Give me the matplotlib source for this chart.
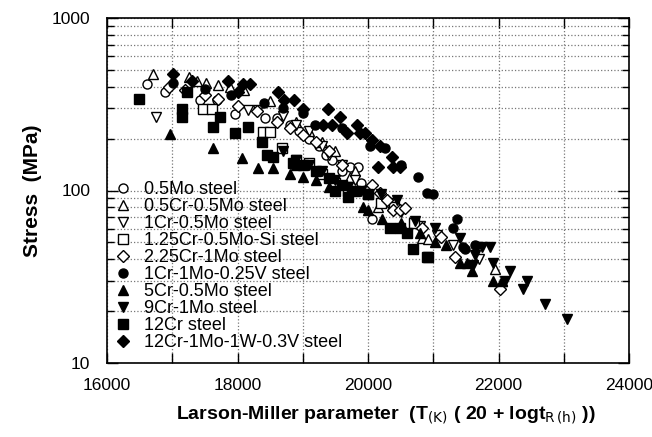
import numpy as np
import matplotlib
matplotlib.use("Agg")
import matplotlib.pyplot as plt
from matplotlib.ticker import FixedLocator, LogLocator, FuncFormatter, NullFormatter

plt.rcParams['font.family'] = ['Liberation Sans', 'DejaVu Sans']

# Larson-Miller parameter / stress (MPa) for each steel
mo05_x = [16613, 16890, 17425, 17686, 17962, 18421, 18605, 18800, 18950, 19100, 19250, 19350, 19450, 19724, 19847, 19600, 19900, 20061]
mo05_y = [414, 372, 335, 335, 278, 263, 263, 240, 220, 200, 180, 160, 150, 137, 137, 130, 110, 68]

cr05_x = [16705, 17257, 17380, 17520, 17700, 17880, 18100, 18500, 18900, 19100, 19300, 19500, 19724, 19800, 20150, 20828, 20920, 21950, 22050]
cr05_y = [473, 455, 430, 420, 410, 400, 380, 330, 250, 220, 190, 170, 120, 130, 80, 53, 52, 35, 30]

cr1_x = [16751, 18160, 18314, 18700, 18900, 19100, 19300, 19400, 19600, 19800, 20000, 20300, 20500, 20800, 21050, 21300, 21700]
cr1_y = [267, 293, 293, 270, 240, 220, 180, 160, 140, 115, 100, 85, 75, 62, 55, 48, 40]

si_x = [17471, 17609, 18390, 18498, 18682, 18900, 19100, 19300, 19500, 19700, 20000, 20200, 20400, 20700]
si_y = [296, 296, 218, 218, 176, 150, 145, 125, 110, 100, 95, 85, 80, 65]

cr225_x = [16950, 17200, 17500, 17700, 18000, 18300, 18600, 18800, 19000, 19200, 19400, 19600, 20061, 20184,
           20291, 20383, 20490, 20567, 20828, 21119, 21333, 22023]
cr225_y = [400, 380, 360, 340, 310, 290, 250, 230, 210, 190, 170, 140, 108, 97, 88, 77, 77, 79, 61, 54, 41, 27]

v025_x = [17011, 17500, 17900, 18400, 18700, 19000, 19188, 19600, 20030, 20260, 20500, 20766, 20904, 21000,
          21303, 21364, 21456, 21487, 21640]
v025_y = [420, 390, 360, 320, 300, 280, 240, 230, 181, 176, 140, 120, 97, 96, 61, 68, 47, 46, 48]

cr5_x = [16966, 17625, 18069, 18314, 18544, 18800, 18900, 19000, 19200, 19400, 19700, 19923, 20000, 20215,
         20500, 20800, 21027, 21200, 21410, 21517, 21594, 21916, 22054]
cr5_y = [213, 176, 154, 135, 135, 125, 140, 120, 115, 105, 95, 80, 77, 68, 65, 57, 50, 48, 38, 38, 34, 30, 30]

cr9_x = [18700, 18900, 19100, 19300, 19500, 19700, 19900, 20200, 20444, 20720, 21027, 21410, 21670, 21747,
         21870, 21640, 21610, 21916, 22100, 22176, 22437, 22376, 22713, 23050]
cr9_y = [170, 150, 140, 130, 115, 105, 100, 95, 88, 67, 61, 53, 47, 47, 47, 42, 37, 38, 30, 34, 30, 27, 22, 18]

cr12_x = [16490, 17150, 17150, 17226, 17625, 17732, 17962, 18160, 18375, 18452, 18544, 18850, 19000, 19200,
          19400, 19500, 19600, 19700, 19800, 20000, 20337, 20490, 20598, 20690, 20904, 20920]
cr12_y = [339, 296, 267, 372, 233, 267, 215, 233, 191, 160, 157, 145, 140, 130, 118, 100, 108, 92, 100, 95,
          61, 61, 57, 46, 41, 41]

w03_x = [17011, 17300, 17854, 18084, 18191, 18008, 18620, 18713, 18866, 19004, 19387, 19571, 19310, 19448,
         19831, 19678, 19877, 19954, 20061, 20184, 20368, 20153, 20383, 20490]
w03_y = [473, 430, 431, 414, 414, 372, 372, 335, 335, 297, 297, 267, 240, 240, 240, 215, 215, 215, 196, 181,
         157, 137, 137, 137]

series = [
    ("0.5Mo steel", mo05_x, mo05_y, 'o', False, 6.5),
    ("0.5Cr-0.5Mo steel", cr05_x, cr05_y, '^', False, 7.5),
    ("1Cr-0.5Mo steel", cr1_x, cr1_y, 'v', False, 7.5),
    ("1.25Cr-0.5Mo-Si steel", si_x, si_y, 's', False, 6.5),
    ("2.25Cr-1Mo steel", cr225_x, cr225_y, 'D', False, 6),
    ("1Cr-1Mo-0.25V steel", v025_x, v025_y, 'o', True, 6.5),
    ("5Cr-0.5Mo steel", cr5_x, cr5_y, '^', True, 7.5),
    ("9Cr-1Mo steel", cr9_x, cr9_y, 'v', True, 7.5),
    ("12Cr steel", cr12_x, cr12_y, 's', True, 6.5),
    ("12Cr-1Mo-1W-0.3V steel", w03_x, w03_y, 'D', True, 6),
]

fig = plt.figure(figsize=(6.52, 4.37), dpi=100)
ax = fig.add_axes([107 / 652, 74 / 437, 522 / 652, 345 / 437])

for label, xs, ys, mk, filled, ms in series:
    ax.plot(xs, ys, linestyle='none', marker=mk, markersize=ms,
            markerfacecolor='black' if filled else 'white',
            markeredgecolor='black', markeredgewidth=1.0, label=label)

ax.set_yscale('log')
ax.set_xlim(16000, 24000)
ax.set_ylim(10, 1000)

ax.xaxis.set_major_locator(FixedLocator(np.arange(16000, 24001, 1000)))
ax.xaxis.set_major_formatter(FuncFormatter(lambda v, p: f"{int(v)}" if int(v) % 2000 == 0 else ""))
ax.yaxis.set_major_locator(LogLocator(base=10))
ax.yaxis.set_minor_locator(LogLocator(base=10, subs=np.arange(2, 10)))
ax.yaxis.set_major_formatter(FuncFormatter(lambda v, p: f"{int(round(v))}"))
ax.yaxis.set_minor_formatter(NullFormatter())

ax.tick_params(which='both', direction='in', top=True, right=True, labelsize=12.5, width=1.0)
ax.tick_params(axis='x', which='major', length=7, pad=11)
ax.tick_params(axis='y', which='major', length=8, pad=12)
ax.tick_params(axis='y', which='minor', length=5)

ax.grid(True, which='major', axis='x', linestyle=':', color='#777777', linewidth=0.9)
ax.grid(True, which='both', axis='y', linestyle=':', color='#777777', linewidth=0.9)
ax.set_axisbelow(True)
for sp in ax.spines.values():
    sp.set_linewidth(1.2)

ax.set_ylabel('Stress  (MPa)', fontsize=15, fontweight='bold', labelpad=7)
ax.set_xlabel(r'Larson-Miller parameter  (T$_{\rm (K)}$ ( 20 + logt$_{\rm R\,(h)}$ ))',
              fontsize=14, fontweight='bold', labelpad=8)
ax.xaxis.label.set_x(0.535)

ax.legend(loc='lower left', bbox_to_anchor=(0.013, 0.035), frameon=False, fontsize=13,
          handlelength=1.0, handletextpad=0.7, labelspacing=0.0, borderaxespad=0.0,
          borderpad=0.0)

fig.savefig('out.png', dpi=100)
